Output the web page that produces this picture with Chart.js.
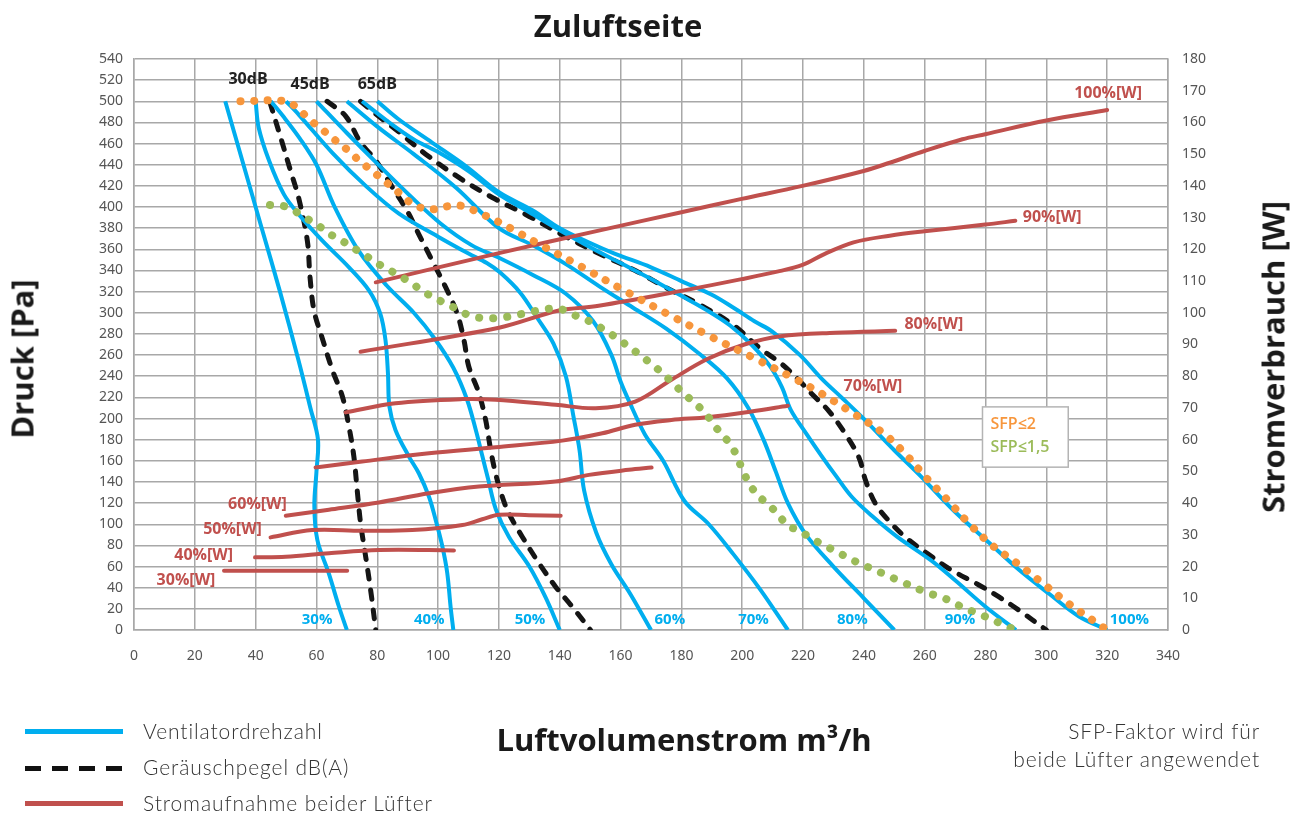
<!DOCTYPE html>
<html>
<head>
<meta charset="utf-8">
<script src="https://cdn.jsdelivr.net/npm/chart.js@4.4.1/dist/chart.umd.min.js"></script>
<style>
  body { margin: 0; background: #fff; font-family: "Lato", "Noto Sans", sans-serif; }
  #wrap { position: absolute; left: 0; top: 0; width: 1299px; height: 818px; }
  .big { position: absolute; transform: translate(-50%, -50%); font: bold 31px/1 "Open Sans", sans-serif; color: #1a1a1a; white-space: nowrap; }
  .rot { transform: translate(-50%, -50%) rotate(-90deg); }
  .leg { position: absolute; left: 25px; width: 98px; height: 5px; }
  .legtxt { position: absolute; left: 143px; font-size: 21px; font-weight: 300; letter-spacing: 0.9px; color: #333; line-height: 24px; }
  #note { position: absolute; right: 39px; top: 717px; text-align: right; font-size: 21px; font-weight: 300; letter-spacing: 0.9px; color: #333; line-height: 28px; }
</style>
</head>
<body>
<div id="wrap"><canvas id="chart" width="1299" height="818"></canvas></div>
<div class="big" style="left:618px;top:25px">Zuluftseite</div>
<div class="big rot" style="left:22px;top:359px">Druck [Pa]</div>
<div class="big rot" style="left:1273px;top:357px">Stromverbrauch [W]</div>
<div class="big" style="left:684px;top:739px">Luftvolumenstrom m³/h</div>

<div class="leg" style="top:729px;background:#00aeef"></div>
<div class="legtxt" style="top:719px">Ventilatordrehzahl</div>
<div class="leg" style="top:766px;background:repeating-linear-gradient(90deg,#111 0 16px,transparent 16px 27px)"></div>
<div class="legtxt" style="top:755px">Geräuschpegel dB(A)</div>
<div class="leg" style="top:801px;background:#c0504d"></div>
<div class="legtxt" style="top:791px">Stromaufnahme beider Lüfter</div>
<div id="note">SFP-Faktor wird für<br>beide Lüfter angewendet</div>

<script>
// axis ranges / ticks
const xMax = 340, xStep = 20;
const pMax = 540, pStep = 20;
const wMax = 180, wStep = 10;

// Ventilatordrehzahl: [m3/h, Pa]
const fan30 = [[30,500],[36,440],[42,380],[48,320],[54,256],[58,210],[60.5,180],[60,150],[59.3,117],[60.3,85],[64,54],[67.4,22],[70,0]];
const fan40 = [[40,500],[41,475],[44.4,444],[49.3,412],[54.2,393],[62,368],[70.7,343],[77.3,321],[81,299],[82.7,274],[83.5,243],[84,211],[86,189],[90.4,164],[93.7,148],[97,126],[99.2,104],[101.4,79],[103,54],[104.1,22],[105,0]];
const fan50 = [[45,500],[49,486],[54.5,465],[60,440],[66,400],[74,358],[83,326],[92,300],[99,275],[105,248],[109.5,218],[112.5,188],[114.5,165],[116.5,142],[119,114],[123.3,88],[130,60],[135.3,31],[140,0]];
const fan60 = [[50,500],[54.3,487],[65.3,451],[76.2,420],[87,394],[100,372],[110,356],[116,347],[120.4,338],[127,319],[132.4,296],[137.9,271],[142,240],[144.5,202],[146.5,170],[148,132],[152,92],[157,62],[163,35],[170,0]];
const fan70 = [[60,500],[70,470],[80,441],[91,410],[101,384],[111,364],[120,352],[131,336],[142,318],[151,292],[157,260],[160,235],[163,215],[168,185],[174,160],[181,122],[189,100],[197,72],[206,38],[215,0]];
const fan80 = [[70,500],[80,476],[92,450],[106,418],[120,380],[131,364],[142,346],[153,325],[164,305],[175,285],[186,261],[195,238],[202,210],[207,180],[211,150],[215,120],[221,90],[230,60],[240,30],[250,0]];
const fan90 = [[75,500],[83,482],[92,464],[100,452],[110,434],[120,412],[130,395],[140,378],[150,362],[160,347],[170,332],[180,316],[188,303],[196,288],[203,270],[209,250],[213,230],[216,208],[221,186],[226,165],[231,145],[236,126],[243,107],[251,88],[262,66],[270,47],[280,22],[290,0]];
const fan100 = [[80,500],[87,483],[98,461],[109,439],[120,414],[131,397],[140,380],[150,366],[158,356],[170,343],[180,330],[190,317],[197,305],[204,292],[210,282],[219,260],[226,238],[233,219],[239.5,201],[250,170],[258.5,146],[269.5,113],[281,83],[291,57],[301,34],[310.6,13],[320,0]];

// Geräuschpegel: [m3/h, Pa]
const db30 = [[44.7,499],[48.2,466],[51.5,434],[54.2,408],[57,368],[57.9,333],[59.2,302],[61.9,276],[65.2,246],[68.5,221],[70.7,192],[72.3,164],[73.4,132],[74.5,101],[76.2,69],[77.8,38],[79.5,0]];
const db45 = [[63.5,500],[69.6,486],[74.5,461],[79.5,444],[84.9,419],[89.9,396],[93.7,374],[98.1,349],[102.5,324],[106.3,299],[108.5,274],[110.1,249],[113.4,224],[115.6,199],[117.3,170],[118.9,148],[121.1,126],[123.3,110],[127.7,88],[133.2,63],[138.6,41],[144.1,22],[150.1,0]];
const db65 = [[74.5,500],[79.5,488],[87.1,471],[95.9,450],[106.8,428],[117.8,409],[128.8,393],[140,375],[152.9,356],[164.8,340],[174.8,324],[185.8,308],[196.8,289],[205.6,267],[213.2,251],[218.7,236],[223,223],[228.5,207],[234,185],[238.4,163],[240.6,141],[243.9,119],[248.3,103],[253.8,87.4],[261,72],[268,58],[277.8,42.6],[284.3,31.5],[290.9,18.9],[300,0]];

// SFP-Grenzen: [m3/h, Pa]
const sfp2 = [[35,500],[50,500],[54.3,492],[57.6,483],[62,473],[65.8,464],[70.2,454],[74,444],[77.9,435],[82.2,425],[86.1,416],[90.5,405],[94.8,399],[99.2,398],[103.6,401],[108,401],[114.6,393],[119.8,386],[124.4,379],[133.8,364],[147.5,343],[161.2,321],[175.4,299],[189.3,278],[203.3,258],[217,238],[226.4,223],[235.3,207],[246,187],[253.5,167],[260.5,144],[267.5,123],[274.8,100],[282.2,80],[290.4,63],[298,46],[307.3,25],[315.9,8],[320,0]];
const sfp15 = [[44.7,402],[50.4,400],[55.7,391],[60.3,383],[64.7,374],[69,367],[73.4,359],[77.8,351],[82.2,343],[86.8,336],[91.2,328],[95.8,319],[100.2,312],[105.2,305],[109.9,298],[114.5,295],[119.4,295],[124.3,297],[129.3,300],[134.5,303],[139.7,304],[144.6,298],[149,293],[153.4,286],[157.8,278],[162.2,269],[166.4,260],[170.4,251],[174.5,241],[178.4,230],[182.2,220],[185.8,211],[189,201],[191.8,190],[196.7,173],[201.1,145],[203.8,132],[207.1,122],[211.4,111],[214.8,99],[218.7,94],[223.1,86],[227.7,79],[232.4,72],[237.1,65],[241.7,59],[246.6,53],[251.3,47],[261.1,35],[265.7,31],[270.6,24],[275.3,18],[280,12.6],[284.9,6.3],[289.8,0]];

// Stromaufnahme beider Lüfter: [m3/h, W]
const pw30 = [[29.6,18.7],[50,18.7],[70.1,18.7]];
const pw40 = [[39.8,22.9],[49.9,23.1],[64.1,24.2],[80.5,25.2],[105.2,25.1]];
const pw50 = [[44.9,29.2],[58.6,31.5],[75,31.3],[91.5,31.5],[108,33.1],[114.5,34.9],[120,36.3],[129.9,36.2],[140.3,36]];
const pw60 = [[49.9,36],[64.1,37.9],[80.5,40.2],[97,43.1],[113.4,45.2],[138.6,46.8],[149.6,48.9],[162.7,50.5],[170.2,51.2]];
const pw70 = [[59.7,51.2],[75,53.1],[97,55.7],[118.9,57.6],[140.8,59.7],[154,62],[164.8,64.7],[176.7,66.2],[188.7,67.1],[203,68.9],[215,70.7]];
const pw80 = [[69.6,68.6],[86,71.5],[108,72.8],[118.9,72.6],[138.6,71],[151.8,69.9],[164.8,72],[176.7,78.9],[188.7,85.5],[200.7,90],[212.6,92.6],[230.6,93.7],[250.3,94.3]];
const pw90 = [[74.5,87.7],[120,95.3],[139.7,100.7],[152.8,102.2],[180,106.9],[199.8,110.6],[212.6,113.2],[219.8,115.1],[227,118.5],[236.6,122.2],[248.5,124.3],[259.9,125.7],[279.9,127.8],[289.8,129]];
const pw100 = [[79.5,109.6],[120,118.8],[152.8,125.9],[180,131.7],[199.8,135.9],[219.8,140],[239.9,144.7],[248.5,147.3],[259.9,151],[272.4,154.7],[279.9,156.3],[300,160.6],[320,163.9]];

const toXY = arr => arr.map(p => ({x: p[0], y: p[1]}));

function fanSet(label, arr) {
  return { label, data: toXY(arr), borderColor: '#00aeef', borderWidth: 4, pointRadius: 0, tension: 0.35, yAxisID: 'y' };
}
function dbSet(label, arr) {
  return { label, data: toXY(arr), borderColor: '#151515', borderWidth: 5, borderDash: [9, 11], borderCapStyle: 'round', pointRadius: 0, tension: 0.35, yAxisID: 'y' };
}
function sfpSet(label, arr, color, gap) {
  return { label, data: toXY(arr), borderColor: color, borderWidth: 8, borderDash: [0.1, gap], borderCapStyle: 'round', pointRadius: 0, tension: 0.35, yAxisID: 'y' };
}
function pwSet(label, arr) {
  return { label, data: toXY(arr), borderColor: '#c0504d', borderWidth: 4, borderCapStyle: 'round', pointRadius: 0, tension: 0.35, yAxisID: 'y2' };
}

// text annotations placed in data units
const notes = [
  {t: '30dB', x: 37.5, y: 521, axis: 'y', c: '#222', size: 16},
  {t: '45dB', x: 57.9, y: 516, axis: 'y', c: '#222', size: 16},
  {t: '65dB', x: 80, y: 516, axis: 'y', c: '#222', size: 16},
  {t: '30%', x: 60.2, y: 9.5, axis: 'y', c: '#00aeef', size: 15},
  {t: '40%', x: 97.1, y: 9.5, axis: 'y', c: '#00aeef', size: 15},
  {t: '50%', x: 130.2, y: 9.5, axis: 'y', c: '#00aeef', size: 15},
  {t: '60%', x: 176.2, y: 9.5, axis: 'y', c: '#00aeef', size: 15},
  {t: '70%', x: 203.7, y: 9.5, axis: 'y', c: '#00aeef', size: 15},
  {t: '80%', x: 236.2, y: 9.5, axis: 'y', c: '#00aeef', size: 15},
  {t: '90%', x: 271.6, y: 9.5, axis: 'y', c: '#00aeef', size: 15},
  {t: '100%', x: 327.3, y: 9.5, axis: 'y', c: '#00aeef', size: 15},
  {t: '100%[W]', x: 320.3, y: 169.3, axis: 'y2', c: '#c0504d', size: 16},
  {t: '90%[W]', x: 301.9, y: 130.2, axis: 'y2', c: '#c0504d', size: 16},
  {t: '80%[W]', x: 263, y: 96.2, axis: 'y2', c: '#c0504d', size: 16},
  {t: '70%[W]', x: 243, y: 76.9, axis: 'y2', c: '#c0504d', size: 16},
  {t: '60%[W]', x: 40.6, y: 39.7, axis: 'y2', c: '#c0504d', size: 16},
  {t: '50%[W]', x: 32.4, y: 31.8, axis: 'y2', c: '#c0504d', size: 16},
  {t: '40%[W]', x: 22.9, y: 23.6, axis: 'y2', c: '#c0504d', size: 16},
  {t: '30%[W]', x: 17.1, y: 15.7, axis: 'y2', c: '#c0504d', size: 16}
];
const sfpBox = {x0: 279, x1: 307.2, y0: 211, y1: 154};

const notesPlugin = {
  id: 'notes',
  afterDatasetsDraw(chart) {
    const {ctx, scales} = chart;
    ctx.save();
    ctx.textAlign = 'center';
    ctx.textBaseline = 'middle';
    notes.forEach(n => {
      ctx.font = 'bold ' + n.size + 'px "Open Sans", sans-serif';
      ctx.fillStyle = n.c;
      ctx.fillText(n.t, scales.x.getPixelForValue(n.x), scales[n.axis].getPixelForValue(n.y));
    });
    // SFP box
    const l = scales.x.getPixelForValue(sfpBox.x0), r = scales.x.getPixelForValue(sfpBox.x1);
    const t = scales.y.getPixelForValue(sfpBox.y0), b = scales.y.getPixelForValue(sfpBox.y1);
    ctx.fillStyle = '#fff';
    ctx.fillRect(l, t, r - l, b - t);
    ctx.strokeStyle = '#b4b4b4';
    ctx.lineWidth = 1.5;
    ctx.strokeRect(l, t, r - l, b - t);
    ctx.textAlign = 'left';
    ctx.font = '600 16px "Open Sans", sans-serif';
    ctx.fillStyle = '#f7963c';
    ctx.fillText('SFP≤2', l + 8, t + 18);
    ctx.fillStyle = '#9bbb59';
    ctx.fillText('SFP≤1,5', l + 8, t + 41);
    ctx.restore();
  }
};

const gridColor = '#a8a8a8';

new Chart(document.getElementById('chart'), {
  type: 'line',
  data: {
    datasets: [
      sfpSet('SFP≤2', sfp2, '#f7963c', 13.5),
      sfpSet('SFP≤1,5', sfp15, '#9bbb59', 14),
      pwSet('30%[W]', pw30), pwSet('40%[W]', pw40), pwSet('50%[W]', pw50), pwSet('60%[W]', pw60),
      pwSet('70%[W]', pw70), pwSet('80%[W]', pw80), pwSet('90%[W]', pw90), pwSet('100%[W]', pw100),
      fanSet('30%', fan30), fanSet('40%', fan40), fanSet('50%', fan50), fanSet('60%', fan60),
      fanSet('70%', fan70), fanSet('80%', fan80), fanSet('90%', fan90), fanSet('100%', fan100),
      dbSet('30dB', db30), dbSet('45dB', db45), dbSet('65dB', db65)
    ]
  },
  options: {
    responsive: false,
    animation: false,
    layout: { padding: { top: 59, left: 0, right: 0, bottom: 0 } },
    plugins: {
      legend: { display: false },
      tooltip: { enabled: false }
    },
    scales: {
      x: {
        type: 'linear', min: 0, max: xMax,
        ticks: { stepSize: xStep, color: '#555', padding: 18, font: { family: '"Noto Sans", sans-serif', size: 14 } },
        grid: { color: gridColor, lineWidth: 1.5, drawTicks: false },
        border: { color: gridColor, width: 1.5 },
        afterFit: s => { s.height = 188; }
      },
      y: {
        type: 'linear', position: 'left', min: 0, max: pMax,
        ticks: { stepSize: pStep, color: '#555', padding: 11, font: { family: '"Noto Sans", sans-serif', size: 14 } },
        grid: { color: gridColor, lineWidth: 1.5, drawTicks: false },
        border: { color: gridColor, width: 1.5 },
        afterFit: s => { s.width = 134; }
      },
      y2: {
        type: 'linear', position: 'right', min: 0, max: wMax,
        ticks: { stepSize: wStep, color: '#555', padding: 14, font: { family: '"Noto Sans", sans-serif', size: 14 } },
        grid: { display: false, drawTicks: false },
        border: { color: gridColor, width: 1.5 },
        afterFit: s => { s.width = 131; }
      }
    }
  },
  plugins: [notesPlugin]
});
</script>
</body>
</html>
